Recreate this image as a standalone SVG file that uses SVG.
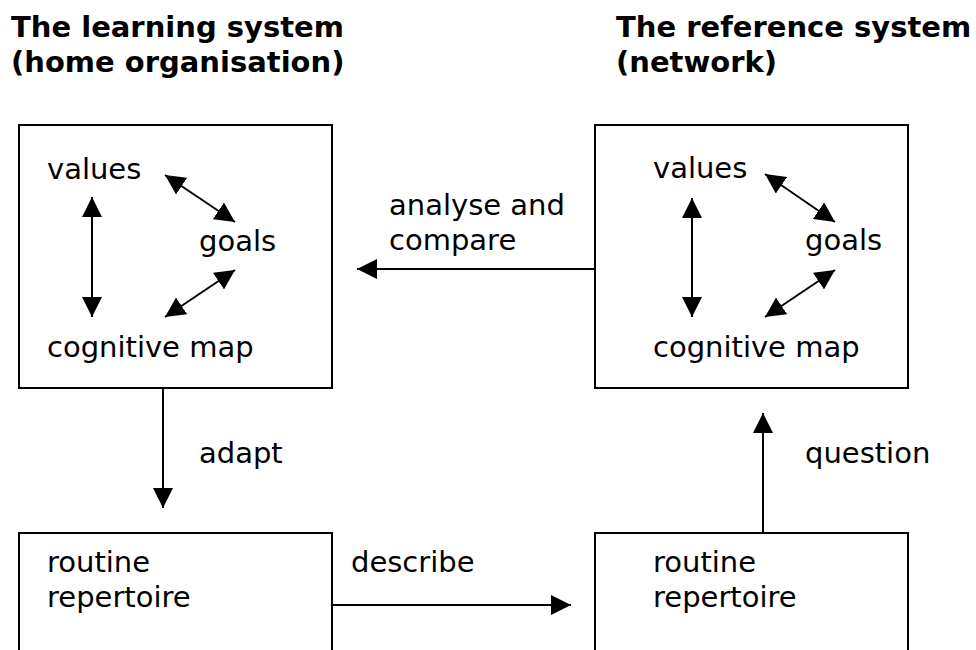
<svg xmlns="http://www.w3.org/2000/svg" width="976" height="650" viewBox="0 0 976 650">
<style>
.t{font-family:"DejaVu Sans","Liberation Sans",sans-serif;font-size:29px;fill:#000}
.h{font-family:"DejaVu Sans","Liberation Sans",sans-serif;font-size:29px;font-weight:bold;fill:#000}
.box{fill:#fff;stroke:#000;stroke-width:2}
.c{fill:none;stroke:#000;stroke-width:2}
</style>
<defs>
<marker id="ah" markerUnits="userSpaceOnUse" markerWidth="20" markerHeight="20" viewBox="0 0 20 20" refX="20" refY="10" orient="auto-start-reverse">
<path d="M0,0 L20,10 L0,20 z" fill="#000"/>
</marker>
</defs>
<rect width="976" height="650" fill="#fff"/>
<g id="titles">
<text class="h" x="11" y="37">The learning system</text>
<text class="h" x="11" y="72">(home organisation)</text>
<text class="h" x="616" y="37">The reference system</text>
<text class="h" x="616" y="72">(network)</text>
</g>
<g id="learning">
<rect class="box" x="19" y="125" width="313" height="263"/>
<text class="t" x="47" y="179">values</text>
<text class="t" x="199" y="251">goals</text>
<text class="t" x="47" y="357">cognitive map</text>
</g>
<g id="reference">
<rect class="box" x="595" y="125" width="313" height="263"/>
<text class="t" x="653" y="178">values</text>
<text class="t" x="805" y="250">goals</text>
<text class="t" x="653" y="357">cognitive map</text>
</g>
<g id="routine-left">
<rect class="box" x="19" y="533" width="313" height="140"/>
<text class="t" x="47" y="572">routine</text>
<text class="t" x="47" y="607">repertoire</text>
</g>
<g id="routine-right">
<rect class="box" x="595" y="533" width="313" height="140"/>
<text class="t" x="653" y="572">routine</text>
<text class="t" x="653" y="607">repertoire</text>
</g>
<g id="connectors">
<line class="c" x1="92" y1="197" x2="92" y2="317" marker-start="url(#ah)" marker-end="url(#ah)"/>
<line class="c" x1="165" y1="175" x2="235" y2="222" marker-start="url(#ah)" marker-end="url(#ah)"/>
<line class="c" x1="235" y1="270" x2="165" y2="317" marker-start="url(#ah)" marker-end="url(#ah)"/>
<line class="c" x1="692" y1="198" x2="692" y2="317" marker-start="url(#ah)" marker-end="url(#ah)"/>
<line class="c" x1="765" y1="174" x2="835" y2="222" marker-start="url(#ah)" marker-end="url(#ah)"/>
<line class="c" x1="835" y1="270" x2="765" y2="317" marker-start="url(#ah)" marker-end="url(#ah)"/>
<line class="c" x1="595" y1="269" x2="357" y2="269" marker-end="url(#ah)"/>
<line class="c" x1="163" y1="388" x2="163" y2="508" marker-end="url(#ah)"/>
<line class="c" x1="332" y1="605" x2="571" y2="605" marker-end="url(#ah)"/>
<line class="c" x1="763" y1="533" x2="763" y2="413" marker-end="url(#ah)"/>
<text class="t" x="389" y="215">analyse and</text>
<text class="t" x="389" y="250">compare</text>
<text class="t" x="199" y="463">adapt</text>
<text class="t" x="351" y="572">describe</text>
<text class="t" x="805" y="463">question</text>
</g>
</svg>
